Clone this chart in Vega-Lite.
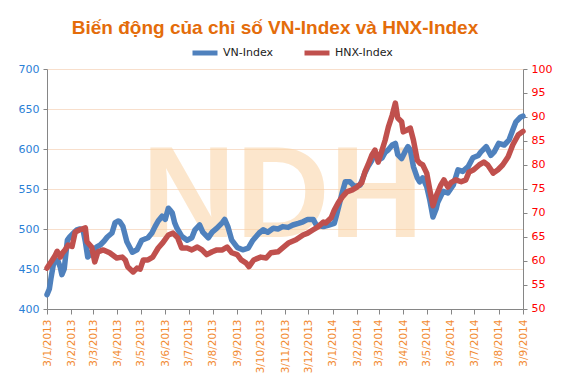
{
  "$schema": "https://vega.github.io/schema/vega-lite/v6.json",
  "autosize": "none",
  "width": 476,
  "height": 240,
  "padding": {"left": 47, "top": 69, "right": 42, "bottom": 69},
  "background": "white",
  "title": {
    "text": "Biến động của chỉ số VN-Index và HNX-Index",
    "font": "Liberation Sans",
    "fontSize": 19,
    "fontWeight": "bold",
    "color": "#E46C0A",
    "anchor": "middle",
    "baseline": "alphabetic",
    "offset": -15,
    "dx": -10
  },
  "config": {
    "view": {"stroke": null},
    "axis": {
      "domainColor": "#868686",
      "tickColor": "#868686",
      "labelFont": "DejaVu Sans",
      "title": null,
      "labelOverlap": false,
      "labelBound": false,
      "labelFlush": false,
      "labelSeparation": 0
    },
    "axisX": {
      "labelExpr": "utcFormat(datum.value, '%-d/%-m/%Y')",
      "labelAngle": 270,
      "labelAlign": "right",
      "labelBaseline": "middle",
      "labelColor": "#F28A30",
      "labelFontSize": 10.5,
      "labelPadding": 5,
      "tickSize": 5,
      "grid": false
    }
  },
  "datasets": {
    "vn": [
      {"date":"2013-01-03","value":418},{"date":"2013-01-06","value":425},{"date":"2013-01-08","value":438},{"date":"2013-01-11","value":455},{"date":"2013-01-13","value":462},{"date":"2013-01-17","value":460},{"date":"2013-01-20","value":452},{"date":"2013-01-22","value":443},{"date":"2013-01-25","value":450},{"date":"2013-01-29","value":486},{"date":"2013-02-01","value":490},{"date":"2013-02-06","value":495},{"date":"2013-02-10","value":499},{"date":"2013-02-14","value":500},{"date":"2013-02-18","value":499},{"date":"2013-02-21","value":484},{"date":"2013-02-24","value":465},{"date":"2013-02-27","value":468},{"date":"2013-03-03","value":474},{"date":"2013-03-08","value":478},{"date":"2013-03-12","value":480},{"date":"2013-03-17","value":485},{"date":"2013-03-21","value":490},{"date":"2013-03-27","value":495},{"date":"2013-03-31","value":508},{"date":"2013-04-04","value":510},{"date":"2013-04-06","value":509},{"date":"2013-04-10","value":503},{"date":"2013-04-15","value":484},{"date":"2013-04-22","value":471},{"date":"2013-04-28","value":474},{"date":"2013-05-04","value":486},{"date":"2013-05-12","value":489},{"date":"2013-05-17","value":495},{"date":"2013-05-21","value":503},{"date":"2013-05-25","value":510},{"date":"2013-05-30","value":516},{"date":"2013-06-03","value":512},{"date":"2013-06-07","value":526},{"date":"2013-06-09","value":524},{"date":"2013-06-12","value":520},{"date":"2013-06-15","value":508},{"date":"2013-06-18","value":501},{"date":"2013-06-24","value":491},{"date":"2013-07-01","value":486},{"date":"2013-07-07","value":489},{"date":"2013-07-11","value":499},{"date":"2013-07-17","value":505},{"date":"2013-07-21","value":496},{"date":"2013-07-28","value":489},{"date":"2013-08-02","value":496},{"date":"2013-08-08","value":501},{"date":"2013-08-15","value":508},{"date":"2013-08-18","value":512},{"date":"2013-08-22","value":503},{"date":"2013-08-27","value":486},{"date":"2013-09-03","value":477},{"date":"2013-09-10","value":474},{"date":"2013-09-17","value":476},{"date":"2013-09-23","value":486},{"date":"2013-10-01","value":495},{"date":"2013-10-06","value":499},{"date":"2013-10-12","value":496},{"date":"2013-10-19","value":501},{"date":"2013-10-25","value":500},{"date":"2013-10-31","value":503},{"date":"2013-11-07","value":502},{"date":"2013-11-13","value":505},{"date":"2013-11-20","value":507},{"date":"2013-11-26","value":509},{"date":"2013-12-02","value":512},{"date":"2013-12-09","value":512},{"date":"2013-12-13","value":505},{"date":"2013-12-22","value":503},{"date":"2013-12-29","value":505},{"date":"2014-01-05","value":507},{"date":"2014-01-08","value":518},{"date":"2014-01-15","value":545},{"date":"2014-01-19","value":559},{"date":"2014-01-25","value":559},{"date":"2014-01-31","value":553},{"date":"2014-02-07","value":555},{"date":"2014-02-13","value":570},{"date":"2014-02-17","value":578},{"date":"2014-02-22","value":586},{"date":"2014-02-26","value":595},{"date":"2014-03-02","value":586},{"date":"2014-03-07","value":589},{"date":"2014-03-11","value":596},{"date":"2014-03-15","value":599},{"date":"2014-03-20","value":605},{"date":"2014-03-24","value":607},{"date":"2014-03-27","value":593},{"date":"2014-04-01","value":588},{"date":"2014-04-05","value":596},{"date":"2014-04-09","value":603},{"date":"2014-04-12","value":599},{"date":"2014-04-16","value":578},{"date":"2014-04-21","value":564},{"date":"2014-04-24","value":559},{"date":"2014-04-28","value":564},{"date":"2014-05-03","value":553},{"date":"2014-05-07","value":536},{"date":"2014-05-11","value":515},{"date":"2014-05-15","value":525},{"date":"2014-05-17","value":533},{"date":"2014-05-24","value":547},{"date":"2014-05-30","value":545},{"date":"2014-06-06","value":555},{"date":"2014-06-12","value":574},{"date":"2014-06-18","value":572},{"date":"2014-06-25","value":578},{"date":"2014-07-01","value":589},{"date":"2014-07-08","value":592},{"date":"2014-07-11","value":596},{"date":"2014-07-18","value":603},{"date":"2014-07-24","value":592},{"date":"2014-07-28","value":596},{"date":"2014-08-03","value":607},{"date":"2014-08-10","value":605},{"date":"2014-08-16","value":611},{"date":"2014-08-21","value":624},{"date":"2014-08-25","value":634},{"date":"2014-08-31","value":640},{"date":"2014-09-03","value":641}
    ],
    "hnx": [
      {"date":"2013-01-03","value":58.5},{"date":"2013-01-07","value":59.5},{"date":"2013-01-09","value":60.0},{"date":"2013-01-13","value":61.0},{"date":"2013-01-16","value":62.0},{"date":"2013-01-20","value":60.8},{"date":"2013-01-23","value":61.7},{"date":"2013-01-26","value":62.3},{"date":"2013-01-30","value":63.3},{"date":"2013-02-04","value":63.0},{"date":"2013-02-08","value":66.0},{"date":"2013-02-14","value":66.5},{"date":"2013-02-21","value":66.9},{"date":"2013-02-23","value":64.0},{"date":"2013-03-01","value":62.9},{"date":"2013-03-05","value":59.8},{"date":"2013-03-09","value":61.9},{"date":"2013-03-16","value":62.3},{"date":"2013-03-24","value":61.7},{"date":"2013-04-02","value":60.6},{"date":"2013-04-09","value":60.8},{"date":"2013-04-13","value":60.2},{"date":"2013-04-16","value":58.8},{"date":"2013-04-23","value":57.7},{"date":"2013-04-28","value":58.5},{"date":"2013-05-02","value":58.3},{"date":"2013-05-06","value":60.2},{"date":"2013-05-12","value":60.2},{"date":"2013-05-18","value":60.8},{"date":"2013-05-25","value":62.7},{"date":"2013-05-31","value":63.8},{"date":"2013-06-07","value":65.4},{"date":"2013-06-13","value":65.8},{"date":"2013-06-19","value":64.8},{"date":"2013-06-24","value":62.7},{"date":"2013-07-01","value":62.7},{"date":"2013-07-07","value":62.3},{"date":"2013-07-14","value":62.9},{"date":"2013-07-20","value":62.3},{"date":"2013-07-26","value":61.3},{"date":"2013-08-02","value":61.9},{"date":"2013-08-08","value":62.3},{"date":"2013-08-15","value":62.3},{"date":"2013-08-21","value":62.9},{"date":"2013-08-27","value":61.7},{"date":"2013-09-03","value":61.3},{"date":"2013-09-08","value":60.2},{"date":"2013-09-14","value":59.6},{"date":"2013-09-18","value":58.8},{"date":"2013-09-24","value":60.2},{"date":"2013-10-03","value":60.8},{"date":"2013-10-10","value":60.6},{"date":"2013-10-16","value":61.7},{"date":"2013-10-25","value":61.9},{"date":"2013-10-31","value":62.7},{"date":"2013-11-08","value":63.8},{"date":"2013-11-17","value":64.4},{"date":"2013-11-26","value":65.4},{"date":"2013-12-02","value":65.8},{"date":"2013-12-09","value":66.5},{"date":"2013-12-15","value":67.1},{"date":"2013-12-22","value":68.1},{"date":"2013-12-25","value":67.9},{"date":"2014-01-01","value":69.0},{"date":"2014-01-05","value":70.6},{"date":"2014-01-10","value":72.1},{"date":"2014-01-15","value":73.3},{"date":"2014-01-21","value":74.4},{"date":"2014-01-28","value":74.8},{"date":"2014-02-03","value":75.4},{"date":"2014-02-09","value":76.3},{"date":"2014-02-13","value":78.5},{"date":"2014-02-17","value":80.0},{"date":"2014-02-22","value":82.1},{"date":"2014-02-26","value":83.1},{"date":"2014-03-02","value":80.6},{"date":"2014-03-07","value":83.1},{"date":"2014-03-11","value":85.2},{"date":"2014-03-15","value":87.9},{"date":"2014-03-20","value":90.4},{"date":"2014-03-24","value":92.9},{"date":"2014-03-27","value":89.8},{"date":"2014-04-01","value":89.0},{"date":"2014-04-03","value":86.9},{"date":"2014-04-08","value":87.3},{"date":"2014-04-12","value":87.7},{"date":"2014-04-16","value":85.2},{"date":"2014-04-21","value":81.0},{"date":"2014-04-24","value":80.4},{"date":"2014-04-28","value":80.0},{"date":"2014-05-03","value":78.3},{"date":"2014-05-07","value":74.8},{"date":"2014-05-11","value":71.5},{"date":"2014-05-15","value":73.5},{"date":"2014-05-21","value":75.8},{"date":"2014-05-25","value":76.9},{"date":"2014-05-30","value":75.4},{"date":"2014-06-03","value":76.3},{"date":"2014-06-09","value":76.9},{"date":"2014-06-16","value":76.5},{"date":"2014-06-22","value":76.9},{"date":"2014-06-26","value":78.5},{"date":"2014-07-02","value":79.0},{"date":"2014-07-09","value":80.0},{"date":"2014-07-15","value":80.6},{"date":"2014-07-20","value":80.0},{"date":"2014-07-27","value":78.3},{"date":"2014-08-02","value":79.0},{"date":"2014-08-08","value":80.0},{"date":"2014-08-15","value":81.7},{"date":"2014-08-21","value":84.2},{"date":"2014-08-28","value":86.3},{"date":"2014-09-03","value":87.0}
    ]
  },
  "layer": [
    {
      "layer": [
        {
          "data": {"values": [{"mark": "NDH"}]},
          "mark": {"type": "text", "font": "Liberation Sans", "fontWeight": "bold", "fontSize": 130, "align": "center", "baseline": "alphabetic", "color": "#FAD3A4", "opacity": 0.55},
          "encoding": {
            "x": {"datum": {"year": 2013, "month": 10, "date": 31, "utc": true}, "type": "temporal"},
            "y": {"datum": 490, "type": "quantitative"},
            "text": {"field": "mark"}
          }
        },
        {
          "data": {"name": "vn"},
          "mark": {"type": "line", "strokeWidth": 5.5, "strokeJoin": "round", "strokeCap": "round"},
          "encoding": {
            "x": {
              "field": "date", "type": "temporal",
              "scale": {"type": "utc", "domain": [1357171200000, 1409702400000]},
              "axis": {
                "values": [1357171200000, 1359849600000, 1362268800000, 1364947200000, 1367539200000, 1370217600000, 1372809600000, 1375488000000, 1378166400000, 1380758400000, 1383436800000, 1386028800000, 1388707200000, 1391385600000, 1393804800000, 1396483200000, 1399075200000, 1401753600000, 1404345600000, 1407024000000, 1409702400000],
                "tickCount": 40
              }
            },
            "y": {
              "field": "value", "type": "quantitative",
              "scale": {"domain": [400, 700], "nice": false, "zero": false},
              "axis": {
                "orient": "left",
                "values": [400, 450, 500, 550, 600, 650, 700],
                "tickCount": 20,
                "grid": true,
                "gridColor": "#F8DFCC",
                "labelColor": "#2A80D6",
                "labelFontSize": 11,
                "labelPadding": 4,
                "tickSize": 4
              }
            },
            "color": {
              "datum": "VN-Index",
              "scale": {"domain": ["VN-Index", "HNX-Index"], "range": ["#4F81BD", "#C0504D"]},
              "legend": {
                "orient": "none",
                "legendX": 143,
                "legendY": -31,
                "direction": "horizontal",
                "title": null,
                "symbolType": "stroke",
                "symbolStrokeWidth": 5,
                "symbolSize": 625,
                "labelFont": "DejaVu Sans",
                "labelFontSize": 11,
                "labelColor": "#222222",
                "labelOffset": 3,
                "columnPadding": 20
              }
            }
          }
        }
      ]
    },
    {
      "data": {"name": "hnx"},
      "mark": {"type": "line", "strokeWidth": 5.5, "strokeJoin": "round", "strokeCap": "round"},
      "encoding": {
        "x": {
          "field": "date", "type": "temporal",
          "axis": {
            "values": [1357171200000, 1359849600000, 1362268800000, 1364947200000, 1367539200000, 1370217600000, 1372809600000, 1375488000000, 1378166400000, 1380758400000, 1383436800000, 1386028800000, 1388707200000, 1391385600000, 1393804800000, 1396483200000, 1399075200000, 1401753600000, 1404345600000, 1407024000000, 1409702400000],
            "tickCount": 40
          }
        },
        "y": {
          "field": "value", "type": "quantitative",
          "scale": {"domain": [49.98, 100], "nice": false, "zero": false},
          "axis": {
            "orient": "right",
            "values": [50, 55, 60, 65, 70, 75, 80, 85, 90, 95, 100],
            "tickCount": 30,
            "grid": false,
            "labelColor": "#FF0000",
            "labelFontSize": 11,
            "labelPadding": 4,
            "tickSize": 4
          }
        },
        "color": {"datum": "HNX-Index"}
      }
    }
  ],
  "resolve": {"scale": {"y": "independent"}}
}
